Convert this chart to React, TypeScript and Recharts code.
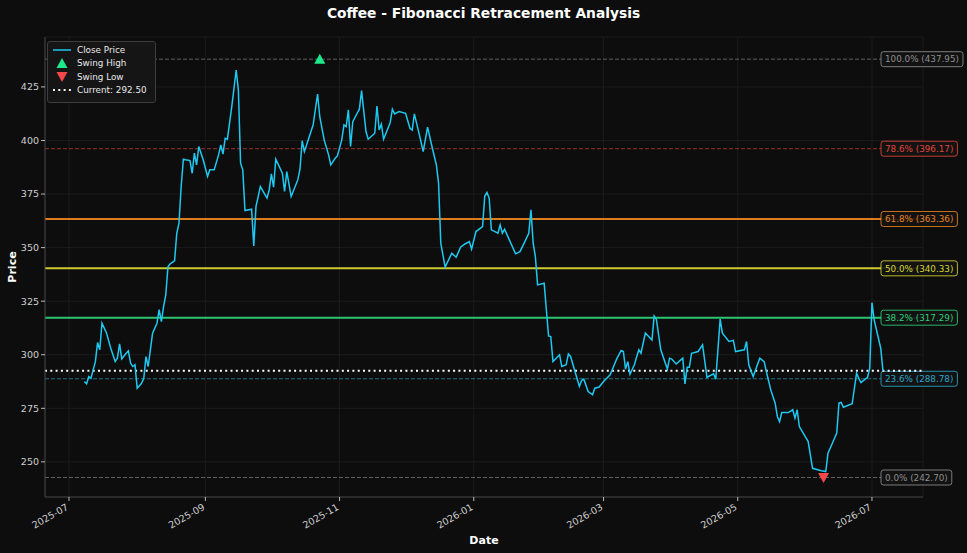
import React from "react";
import {
  ComposedChart,
  Line,
  Scatter,
  XAxis,
  YAxis,
  CartesianGrid,
  ReferenceLine,
  ReferenceArea,
  Legend,
} from "recharts";

const dates = [
  "2025-07-08", "2025-07-09", "2025-07-10", "2025-07-11", "2025-07-13", "2025-07-14", "2025-07-15", "2025-07-16",
  "2025-07-18", "2025-07-20", "2025-07-22", "2025-07-23", "2025-07-24", "2025-07-25", "2025-07-27", "2025-07-28",
  "2025-07-29", "2025-07-30", "2025-07-31", "2025-08-01", "2025-08-03", "2025-08-04", "2025-08-05", "2025-08-06",
  "2025-08-07", "2025-08-08", "2025-08-10", "2025-08-11", "2025-08-12", "2025-08-13", "2025-08-14", "2025-08-15",
  "2025-08-16", "2025-08-18", "2025-08-19", "2025-08-20", "2025-08-21", "2025-08-22", "2025-08-23", "2025-08-25",
  "2025-08-26", "2025-08-27", "2025-08-28", "2025-08-29", "2025-08-31", "2025-09-02", "2025-09-03", "2025-09-05",
  "2025-09-07", "2025-09-08", "2025-09-09", "2025-09-10", "2025-09-11", "2025-09-13", "2025-09-15", "2025-09-16",
  "2025-09-17", "2025-09-18", "2025-09-19", "2025-09-22", "2025-09-23", "2025-09-24", "2025-09-26", "2025-09-29",
  "2025-09-30", "2025-10-01", "2025-10-02", "2025-10-03", "2025-10-06", "2025-10-07", "2025-10-08", "2025-10-10",
  "2025-10-13", "2025-10-14", "2025-10-15", "2025-10-16", "2025-10-18", "2025-10-20", "2025-10-22", "2025-10-23",
  "2025-10-25", "2025-10-27", "2025-10-28", "2025-10-30", "2025-10-31", "2025-11-02", "2025-11-03", "2025-11-04",
  "2025-11-05", "2025-11-06", "2025-11-07", "2025-11-09", "2025-11-10", "2025-11-11", "2025-11-13", "2025-11-14",
  "2025-11-17", "2025-11-18", "2025-11-19", "2025-11-20", "2025-11-21", "2025-11-24", "2025-11-25", "2025-11-26",
  "2025-11-28", "2025-12-01", "2025-12-03", "2025-12-04", "2025-12-05", "2025-12-08", "2025-12-09", "2025-12-11",
  "2025-12-13", "2025-12-15", "2025-12-16", "2025-12-17", "2025-12-19", "2025-12-22", "2025-12-24", "2025-12-26",
  "2025-12-28", "2025-12-30", "2025-12-31", "2026-01-02", "2026-01-05", "2026-01-06", "2026-01-07", "2026-01-08",
  "2026-01-09", "2026-01-12", "2026-01-13", "2026-01-14", "2026-01-15", "2026-01-20", "2026-01-22", "2026-01-24",
  "2026-01-26", "2026-01-27", "2026-01-28", "2026-01-29", "2026-01-30", "2026-02-02", "2026-02-03", "2026-02-04",
  "2026-02-05", "2026-02-06", "2026-02-09", "2026-02-10", "2026-02-12", "2026-02-13", "2026-02-14", "2026-02-18",
  "2026-02-19", "2026-02-20", "2026-02-22", "2026-02-24", "2026-02-25", "2026-02-27", "2026-03-01", "2026-03-02",
  "2026-03-04", "2026-03-07", "2026-03-09", "2026-03-10", "2026-03-11", "2026-03-12", "2026-03-13", "2026-03-15",
  "2026-03-17", "2026-03-18", "2026-03-20", "2026-03-23", "2026-03-24", "2026-03-25", "2026-03-27", "2026-03-30",
  "2026-03-31", "2026-04-01", "2026-04-03", "2026-04-06", "2026-04-07", "2026-04-08", "2026-04-09", "2026-04-10",
  "2026-04-13", "2026-04-15", "2026-04-17", "2026-04-20", "2026-04-21", "2026-04-23", "2026-04-24", "2026-04-27",
  "2026-04-29", "2026-04-30", "2026-05-04", "2026-05-05", "2026-05-06", "2026-05-08", "2026-05-11", "2026-05-13",
  "2026-05-14", "2026-05-16", "2026-05-18", "2026-05-19", "2026-05-20", "2026-05-21", "2026-05-24", "2026-05-26",
  "2026-05-27", "2026-05-28", "2026-05-29", "2026-06-02", "2026-06-04", "2026-06-08", "2026-06-10", "2026-06-11",
  "2026-06-13", "2026-06-15", "2026-06-16", "2026-06-17", "2026-06-18", "2026-06-22", "2026-06-24", "2026-06-25",
  "2026-06-26", "2026-06-29", "2026-06-30", "2026-07-01", "2026-07-02", "2026-07-05", "2026-07-06",
];

const closes = [
  287.5, 286.4, 289.8, 289.0, 296.8, 305.7, 302.3, 314.7,
  310.3, 303.0, 296.8, 298.4, 305.1, 298.1, 300.7, 301.8,
  296.1, 294.5, 295.3, 284.4, 286.7, 289.0, 299.1, 294.5,
  302.3, 310.1, 314.7, 321.0, 315.5, 322.5, 327.9, 341.1,
  342.4, 343.8, 356.7, 361.4, 378.5, 391.3, 391.0, 390.6,
  384.7, 394.1, 388.6, 397.2, 391.0, 383.2, 386.3, 386.3,
  393.3, 397.9, 393.6, 401.0, 400.6, 415.8, 432.9, 423.6,
  389.4, 386.3, 367.3, 367.9, 350.8, 369.1, 378.5, 373.1,
  376.9, 384.4, 378.2, 391.3, 384.7, 376.2, 385.5, 373.8,
  381.6, 386.6, 399.9, 394.8, 401.0, 407.3, 421.7, 411.1,
  400.3, 393.3, 388.6, 391.7, 392.8, 400.3, 407.3, 406.5,
  414.3, 397.2, 408.8, 412.7, 414.6, 423.3, 404.2, 400.6,
  403.4, 416.1, 404.9, 407.6, 400.6, 408.3, 414.6, 412.4,
  413.5, 412.7, 405.7, 404.9, 412.4, 399.5, 394.8, 406.2,
  397.2, 388.6, 380.1, 352.1, 340.9, 347.4, 345.5, 350.2,
  351.7, 352.8, 349.3, 357.5, 359.8, 374.1, 375.8, 373.1,
  358.3, 356.7, 360.6, 356.7, 358.6, 347.1, 348.1, 352.3,
  356.7, 367.6, 352.1, 345.8, 332.6, 333.4, 320.9, 308.8,
  308.5, 296.8, 300.0, 294.5, 295.3, 300.4, 299.2, 285.2,
  288.0, 288.6, 282.8, 281.3, 284.4, 284.9, 287.5, 288.6,
  290.6, 298.1, 302.0, 301.5, 293.3, 296.8, 290.9, 295.3,
  302.3, 300.7, 310.1, 306.9, 318.1, 316.6, 302.3, 293.3,
  298.4, 298.0, 295.7, 298.4, 286.4, 294.2, 294.2, 300.7,
  301.5, 304.6, 289.5, 291.1, 288.6, 316.6, 310.1, 306.2,
  306.7, 301.5, 302.3, 306.2, 295.3, 289.8, 298.4, 296.8,
  292.1, 283.6, 277.4, 271.2, 268.8, 273.0, 273.0, 274.3,
  270.4, 274.3, 266.5, 259.5, 247.0, 245.9, 245.5, 254.1,
  258.7, 263.4, 277.4, 277.7, 275.5, 277.1, 291.4, 289.0,
  287.0, 289.5, 293.7, 324.3, 316.3, 303.0, 292.5,
];

const swingHighDate = "2025-10-23";
const swingHighPrice = 437.95;
const swingLowDate = "2026-06-09";
const swingLowPrice = 242.7;
const currentPrice = 292.5;

const fibRatios = [1, 0.786, 0.618, 0.5, 0.382, 0.236, 0];
const fibPrices = [437.95, 396.17, 363.36, 340.33, 317.29, 288.78, 242.7];
const fibColors = ["#8e8e8e", "#e2453b", "#e8831f", "#d7d631", "#2ecf78", "#2ba7c6", "#8e8e8e"];
const fibDashed = [true, true, false, false, false, true, true];

const xTickDates = ["2025-07-01", "2025-09-01", "2025-11-01", "2026-01-01", "2026-03-01", "2026-05-01", "2026-07-01"];
const yTicks = [250, 275, 300, 325, 350, 375, 400, 425];

const DAY = 86400000;
const day0 = Date.parse("2025-07-01");
const toDay = (s: string) => (Date.parse(s) - day0) / DAY;

const data = dates.map((d, i) => ({ t: toDay(d), close: closes[i] }));
const highData = [{ t: toDay(swingHighDate), high: swingHighPrice }];
const lowData = [{ t: toDay(swingLowDate), low: swingLowPrice }];
const xTicks = xTickDates.map(toDay);

const FONT = "'DejaVu Sans', sans-serif";
const BG = "#0d0d0d";

const charW = (c: string) => {
  if (c >= "0" && c <= "9") return 0.636;
  if (c === ".") return 0.318;
  if (c === "%") return 0.95;
  if (c === " ") return 0.318;
  if (c === "(" || c === ")") return 0.39;
  return 0.6;
};
const textWidth = (s: string, size: number) => s.split("").reduce((a, c) => a + charW(c), 0) * size;

const FibLabel = ({ viewBox, text, color }: any) => {
  if (!viewBox) return null;
  const x = viewBox.x + viewBox.width - 42;
  const y = viewBox.y;
  const w = textWidth(text, 8.8) + 8;
  return (
    <g>
      <rect x={x} y={y - 7.5} width={w} height={15} rx={2.5} fill="#121212" fillOpacity={0.92} stroke={color} strokeOpacity={0.85} strokeWidth={1} />
      <text x={x + 4} y={y + 3.2} fontSize={8.8} fill={color} fontFamily={FONT}>
        {text}
      </text>
    </g>
  );
};

const DateTick = ({ x, y, payload }: any) => {
  const d = new Date(day0 + payload.value * DAY);
  const label = `${d.getUTCFullYear()}-${String(d.getUTCMonth() + 1).padStart(2, "0")}`;
  const ax = x;
  const ay = y + 6;
  return (
    <text x={ax} y={ay} transform={`rotate(-30 ${ax} ${ay})`} textAnchor="end" fontSize={9.5} fill="#cfcfcf" fontFamily={FONT}>
      {label}
    </text>
  );
};

const UpTriangle = ({ cx, cy }: any) => (
  <polygon points={`${cx},${cy - 5.5} ${cx + 5.5},${cy + 4.5} ${cx - 5.5},${cy + 4.5}`} fill="#1de98b" />
);
const DownTriangle = ({ cx, cy }: any) => (
  <polygon points={`${cx - 5.5},${cy - 4.5} ${cx + 5.5},${cy - 4.5} ${cx},${cy + 5.5}`} fill="#f4474a" />
);

const LegendBox = () => {
  const row = { display: "flex", alignItems: "center", height: 13.5 };
  const icon = { width: 20, height: 12, marginRight: 5 };
  return (
    <div
      style={{
        background: "#151515",
        border: "1px solid #3d3d3d",
        borderRadius: 3,
        padding: "1px 8px 5px 4px",
        fontSize: 8.8,
        color: "#e8e8e8",
        fontFamily: FONT,
      }}
    >
      <div style={row}>
        <svg style={icon}>
          <line x1={1} y1={6} x2={19} y2={6} stroke="#1ec8f0" strokeWidth={1.5} />
        </svg>
        Close Price
      </div>
      <div style={row}>
        <svg style={icon}>
          <polygon points="10,1 15.5,11 4.5,11" fill="#1de98b" />
        </svg>
        Swing High
      </div>
      <div style={row}>
        <svg style={icon}>
          <polygon points="4.5,1 15.5,1 10,11" fill="#f4474a" />
        </svg>
        Swing Low
      </div>
      <div style={row}>
        <svg style={icon}>
          <line x1={1} y1={6} x2={19} y2={6} stroke="#ffffff" strokeWidth={2} strokeDasharray="2 3.3" />
        </svg>
        {`Current: ${currentPrice.toFixed(2)}`}
      </div>
    </div>
  );
};

export default function App() {
  return (
    <div style={{ position: "fixed", left: 0, top: 0, width: 967, height: 553, background: BG, fontFamily: FONT }}>
      <div
        style={{
          position: "absolute",
          top: 4,
          left: 0,
          width: 967,
          textAlign: "center",
          color: "#ffffff",
          fontWeight: "bold",
          fontSize: 13.8,
          lineHeight: "18px",
        }}
      >
        Coffee - Fibonacci Retracement Analysis
      </div>
      <ComposedChart width={967} height={553} data={data} margin={{ top: 37, right: 44, bottom: 0, left: 5 }}>
        <CartesianGrid stroke="#202020" strokeWidth={0.8} />
        <ReferenceArea fill="none" stroke="#444" strokeWidth={1} ifOverflow="extendDomain" />
        <XAxis
          dataKey="t"
          type="number"
          domain={[-10.9, 388.2]}
          allowDataOverflow
          ticks={xTicks}
          tick={<DateTick />}
          tickSize={4}
          tickLine={{ stroke: "#bbbbbb" }}
          axisLine={{ stroke: "#444" }}
          height={56}
          label={{
            content: ({ viewBox }: any) => (
              <text x={viewBox.x + viewBox.width / 2} y={544} textAnchor="middle" fill="#ffffff" fontWeight="bold" fontSize={11} fontFamily={FONT}>
                Date
              </text>
            ),
          }}
        />
        <YAxis
          type="number"
          domain={[233.6, 448.3]}
          allowDataOverflow
          ticks={yTicks}
          width={40}
          tickSize={4}
          tickLine={{ stroke: "#bbbbbb" }}
          axisLine={{ stroke: "#444" }}
          tick={{ fill: "#cfcfcf", fontSize: 9.5, fontFamily: FONT }}
          label={{
            content: ({ viewBox }: any) => {
              const cy = viewBox.y + viewBox.height / 2;
              return (
                <text x={16} y={cy} transform={`rotate(-90 16 ${cy})`} textAnchor="middle" fill="#ffffff" fontWeight="bold" fontSize={11} fontFamily={FONT}>
                  Price
                </text>
              );
            },
          }}
        />
        {fibPrices.map((p, i) => {
          const text = `${(fibRatios[i] * 100).toFixed(1)}% (${p.toFixed(2)})`;
          return (
            <ReferenceLine
              key={i}
              y={p}
              stroke={fibColors[i]}
              strokeOpacity={fibDashed[i] ? 0.65 : 0.95}
              strokeWidth={fibDashed[i] ? 1 : 2}
              strokeDasharray={fibDashed[i] ? "4 2" : undefined}
              label={(props: any) => <FibLabel {...props} text={text} color={fibColors[i]} />}
            />
          );
        })}
        <ReferenceLine y={currentPrice} stroke="#ffffff" strokeWidth={2} strokeDasharray="2 3.3" />
        <Line
          dataKey="close"
          stroke="#1ec8f0"
          strokeWidth={1.5}
          dot={false}
          activeDot={false}
          isAnimationActive={false}
        />
        <Scatter data={highData} dataKey="high" shape={<UpTriangle />} isAnimationActive={false} />
        <Scatter data={lowData} dataKey="low" shape={<DownTriangle />} isAnimationActive={false} />
        <Legend
          layout="vertical"
          align="center"
          verticalAlign="middle"
          wrapperStyle={{ top: 41, left: 47, width: "auto" }}
          content={() => <LegendBox />}
        />
      </ComposedChart>
    </div>
  );
}
